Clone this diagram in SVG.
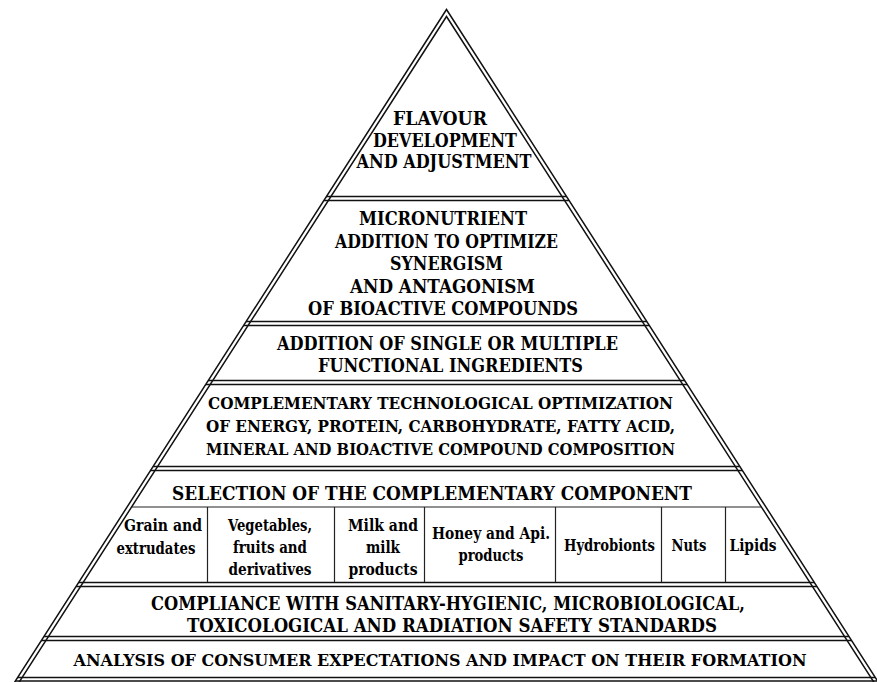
<svg xmlns="http://www.w3.org/2000/svg" width="877" height="682" viewBox="0 0 877 682">
  <style>
    .edge { stroke: #111; stroke-width: 1.5; fill: none; }
    .rule { stroke: #111; stroke-width: 1.5; }
    .thin { stroke: #222; stroke-width: 1.2; }
    text { font-weight: 700; fill: #000; text-anchor: middle; }
    .big { font-size: 17.8px; }
    .mid { font-size: 16px; }
    .sel { font-size: 18.2px; }
    .small { font-size: 16px; }
    .base { font-size: 17.2px; }
  </style>
  <defs>
    <clipPath id="outerClip">
      <polygon points="446.5,9.5 9.6,690 883.4,690"/>
    </clipPath>
    <clipPath id="innerClip">
      <polygon points="446.5,16.5 14.1,690 878.9,690"/>
    </clipPath>
  </defs>
  <rect x="0" y="0" width="877" height="682" fill="#fff"/>

  <g id="pyramid-frame">
    <g clip-path="url(#outerClip)">
      <line class="rule" x1="0" y1="196.5" x2="877" y2="196.5"/>
      <line class="rule" x1="0" y1="200.5" x2="877" y2="200.5"/>
      <line class="rule" x1="0" y1="321.5" x2="877" y2="321.5"/>
      <line class="rule" x1="0" y1="325.5" x2="877" y2="325.5"/>
      <line class="rule" x1="0" y1="380.5" x2="877" y2="380.5"/>
      <line class="rule" x1="0" y1="384.5" x2="877" y2="384.5"/>
      <line class="rule" x1="0" y1="466.5" x2="877" y2="466.5"/>
      <line class="rule" x1="0" y1="470.5" x2="877" y2="470.5"/>
      <line class="rule" x1="0" y1="582.5" x2="877" y2="582.5"/>
      <line class="rule" x1="0" y1="586.5" x2="877" y2="586.5"/>
      <line class="rule" x1="0" y1="636.5" x2="877" y2="636.5"/>
      <line class="rule" x1="0" y1="640.5" x2="877" y2="640.5"/>
      <line class="rule" x1="0" y1="677.5" x2="877" y2="677.5"/>
      <line class="rule" x1="0" y1="681" x2="877" y2="681"/>
    </g>
    <path class="edge" d="M9.6,690 L446.5,9.5 L883.4,690"/>
    <path class="edge" d="M14.1,690 L446.5,16.5 L878.9,690"/>
  </g>

  <g id="connectors"></g>

  <g font-family="'DejaVu Serif', serif">
  <g id="flavour">
    <text class="big" x="440" y="125" textLength="94" lengthAdjust="spacingAndGlyphs">FLAVOUR</text>
    <text class="big" x="445" y="147" textLength="144" lengthAdjust="spacingAndGlyphs">DEVELOPMENT</text>
    <text class="big" x="444" y="168" textLength="175" lengthAdjust="spacingAndGlyphs">AND ADJUSTMENT</text>
  </g>

  <g id="micronutrient">
    <text class="big" x="443" y="225" textLength="168" lengthAdjust="spacingAndGlyphs">MICRONUTRIENT</text>
    <text class="big" x="446.5" y="248" textLength="223" lengthAdjust="spacingAndGlyphs">ADDITION TO OPTIMIZE</text>
    <text class="big" x="446.5" y="270" textLength="113" lengthAdjust="spacingAndGlyphs">SYNERGISM</text>
    <text class="big" x="442.5" y="292.5" textLength="185" lengthAdjust="spacingAndGlyphs">AND ANTAGONISM</text>
    <text class="big" x="443" y="315" textLength="270" lengthAdjust="spacingAndGlyphs">OF BIOACTIVE COMPOUNDS</text>
  </g>

  <g id="functional-ingredients">
    <text class="big" x="447.5" y="350" textLength="341" lengthAdjust="spacingAndGlyphs">ADDITION OF SINGLE OR MULTIPLE</text>
    <text class="big" x="450.5" y="372" textLength="265" lengthAdjust="spacingAndGlyphs">FUNCTIONAL INGREDIENTS</text>
  </g>

  <g id="technological-optimization">
    <text class="mid" x="440.5" y="409" textLength="465" lengthAdjust="spacingAndGlyphs">COMPLEMENTARY TECHNOLOGICAL OPTIMIZATION</text>
    <text class="mid" x="440.5" y="432" textLength="469" lengthAdjust="spacingAndGlyphs">OF ENERGY, PROTEIN, CARBOHYDRATE, FATTY ACID,</text>
    <text class="mid" x="440.5" y="455" textLength="469" lengthAdjust="spacingAndGlyphs">MINERAL AND BIOACTIVE COMPOUND COMPOSITION</text>
  </g>

  <g id="complementary-component">
    <text class="sel" x="432" y="500" textLength="520" lengthAdjust="spacingAndGlyphs">SELECTION OF THE COMPLEMENTARY COMPONENT</text>
    <g clip-path="url(#innerClip)">
      <line class="thin" x1="0" y1="507" x2="877" y2="507"/>
    </g>
    <line class="thin" x1="207.5" y1="507" x2="207.5" y2="582"/>
    <line class="thin" x1="334.5" y1="507" x2="334.5" y2="582"/>
    <line class="thin" x1="424.5" y1="507" x2="424.5" y2="582"/>
    <line class="thin" x1="555.5" y1="507" x2="555.5" y2="582"/>
    <line class="thin" x1="661.5" y1="507" x2="661.5" y2="582"/>
    <line class="thin" x1="725.5" y1="507" x2="725.5" y2="582"/>
    <g id="col-grain">
      <text class="small" x="163" y="531" textLength="78" lengthAdjust="spacingAndGlyphs">Grain and</text>
      <text class="small" x="156" y="554" textLength="79" lengthAdjust="spacingAndGlyphs">extrudates</text>
    </g>
    <g id="col-vegetables">
      <text class="small" x="270" y="531" textLength="84" lengthAdjust="spacingAndGlyphs">Vegetables,</text>
      <text class="small" x="270" y="553" textLength="74" lengthAdjust="spacingAndGlyphs">fruits and</text>
      <text class="small" x="270" y="575" textLength="83" lengthAdjust="spacingAndGlyphs">derivatives</text>
    </g>
    <g id="col-milk">
      <text class="small" x="383" y="531" textLength="70" lengthAdjust="spacingAndGlyphs">Milk and</text>
      <text class="small" x="383" y="553" textLength="34" lengthAdjust="spacingAndGlyphs">milk</text>
      <text class="small" x="383" y="575" textLength="69" lengthAdjust="spacingAndGlyphs">products</text>
    </g>
    <g id="col-honey">
      <text class="small" x="491" y="539" textLength="118" lengthAdjust="spacingAndGlyphs">Honey and Api.</text>
      <text class="small" x="491" y="561" textLength="65" lengthAdjust="spacingAndGlyphs">products</text>
    </g>
    <g id="col-hydrobionts">
      <text class="small" x="609.5" y="551" textLength="91" lengthAdjust="spacingAndGlyphs">Hydrobionts</text>
    </g>
    <g id="col-nuts">
      <text class="small" x="689" y="551" textLength="35" lengthAdjust="spacingAndGlyphs">Nuts</text>
    </g>
    <g id="col-lipids">
      <text class="small" x="753" y="551" textLength="47" lengthAdjust="spacingAndGlyphs">Lipids</text>
    </g>
  </g>

  <g id="safety-standards">
    <text class="big" x="448" y="610" textLength="594" lengthAdjust="spacingAndGlyphs">COMPLIANCE WITH SANITARY-HYGIENIC, MICROBIOLOGICAL,</text>
    <text class="big" x="452" y="632" textLength="530" lengthAdjust="spacingAndGlyphs">TOXICOLOGICAL AND RADIATION SAFETY STANDARDS</text>
  </g>

  <g id="consumer-expectations">
    <text class="base" x="440" y="666" textLength="733" lengthAdjust="spacingAndGlyphs">ANALYSIS OF CONSUMER EXPECTATIONS AND IMPACT ON THEIR FORMATION</text>
  </g>
  </g>
</svg>
